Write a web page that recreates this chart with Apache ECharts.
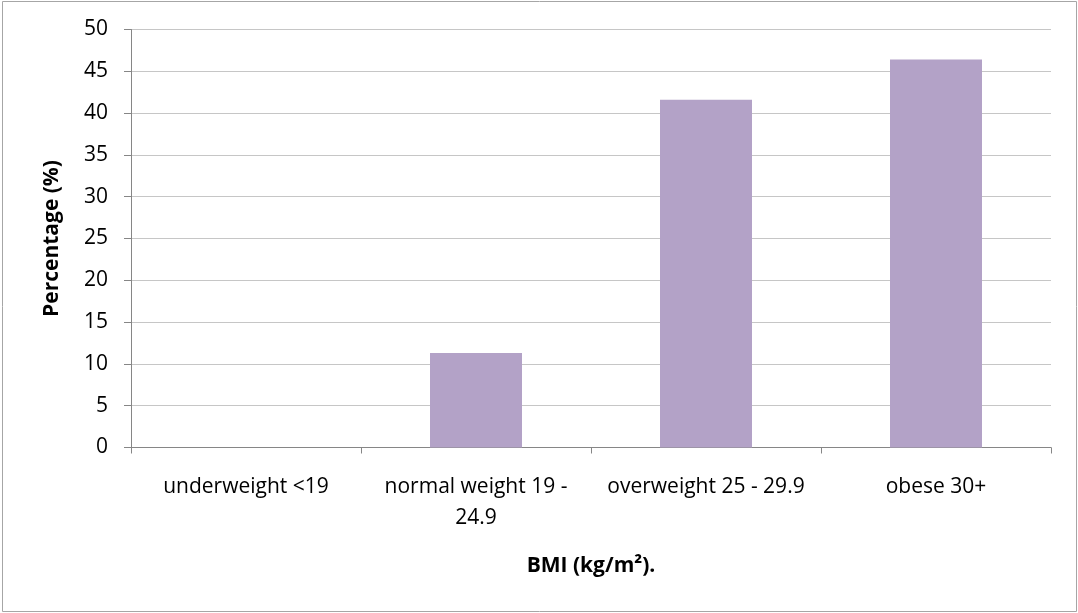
<!DOCTYPE html>
<html>
<head>
<meta charset="utf-8">
<script src="https://cdn.jsdelivr.net/npm/echarts@6/dist/echarts.min.js"></script>
<style>
html,body{margin:0;padding:0;background:#fff;}
#chart{width:1078px;height:613px;}
</style>
</head>
<body>
<div id="chart"></div>
<script>
var categories = ['underweight <19', 'normal weight 19 -\n24.9', 'overweight 25 - 29.9', 'obese 30+'];
var percentages = [0, 11.3, 41.6, 46.4];
var yTicks = {min: 0, max: 50, interval: 5};
var xTitle = 'BMI (kg/m\u00B2).';
var yTitle = 'Percentage (%)';

var FONT = '"Open Sans", "Noto Sans", sans-serif';
var chart = echarts.init(document.getElementById('chart'), null, {renderer: 'canvas'});
chart.setOption({
  animation: false,
  backgroundColor: '#ffffff',
  graphic: [{
    type: 'rect',
    shape: {x: 2.5, y: 1.5, width: 1074, height: 610},
    style: {fill: 'none', stroke: '#a6a6a6', lineWidth: 1},
    silent: true
  }],
  grid: {left: 131, right: 27, top: 29.5, bottom: 165.5, containLabel: false},
  xAxis: {
    type: 'category',
    data: categories,
    boundaryGap: true,
    name: xTitle,
    nameLocation: 'middle',
    nameGap: 108,
    nameTextStyle: {fontFamily: FONT, fontSize: 21, fontWeight: 'bold', color: '#000'},
    axisLine: {show: true, lineStyle: {color: '#868686', width: 1}},
    axisTick: {show: true, length: 6, alignWithLabel: false, lineStyle: {color: '#868686'}},
    axisLabel: {fontFamily: FONT, fontSize: 21, color: '#000', margin: 24, lineHeight: 31, interval: 0}
  },
  yAxis: {
    type: 'value',
    min: yTicks.min,
    max: yTicks.max,
    interval: yTicks.interval,
    name: yTitle,
    nameLocation: 'middle',
    nameGap: 68,
    nameRotate: 90,
    nameTextStyle: {fontFamily: FONT, fontSize: 21, fontWeight: 'bold', color: '#000'},
    axisLine: {show: true, lineStyle: {color: '#868686', width: 1}},
    axisTick: {show: true, length: 7, inside: false, lineStyle: {color: '#868686'}},
    axisLabel: {fontFamily: FONT, fontSize: 21, color: '#000', margin: 23},
    splitLine: {show: true, lineStyle: {color: '#c6c6c6', width: 1}}
  },
  series: [{
    type: 'bar',
    data: percentages,
    barWidth: '40%',
    itemStyle: {color: '#b3a2c7'}
  }]
});
</script>
</body>
</html>
